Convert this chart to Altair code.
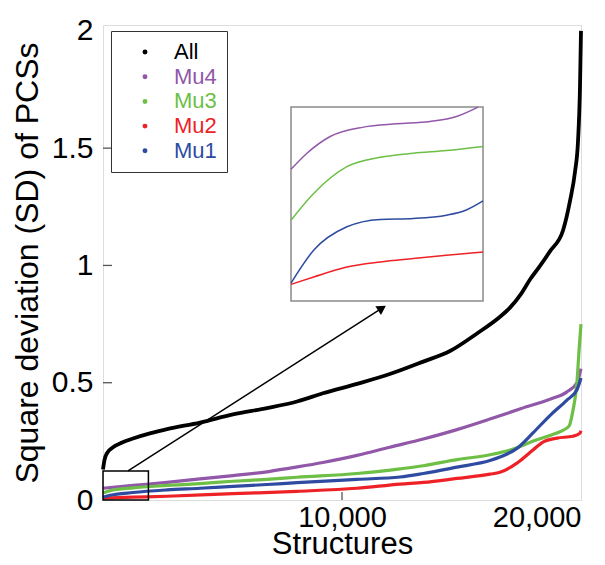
import altair as alt
import pandas as pd

# ---------------- data ----------------
series_names = ["All", "Mu4", "Mu3", "Mu2", "Mu1"]
series_colors = ["#000000", "#9157a8", "#6dbf45", "#ee2226", "#2e4ba1"]

all_x = [0, 60, 170, 420, 800, 1255, 2000, 2680, 4060, 5440, 6860, 8120, 9200, 10630,
         12000, 13400, 14520, 15650, 16600, 17030, 17500, 17866, 18300, 18700, 19250,
         19540, 19750, 19875, 19958, 20000]
all_y = [0.13, 0.17, 0.20, 0.225, 0.245, 0.262, 0.285, 0.302, 0.33, 0.365, 0.392, 0.42,
         0.455, 0.495, 0.537, 0.59, 0.635, 0.71, 0.78, 0.82, 0.88, 0.94, 1.0, 1.06, 1.15,
         1.275, 1.40, 1.53, 1.76, 2.0]

mu4_x = [0, 1255, 2680, 4060, 5440, 6860, 7820, 9200, 10630, 12000, 13400, 14810, 16190,
         17500, 18700, 19400, 19830, 20000]
mu4_y = [0.05, 0.062, 0.075, 0.09, 0.104, 0.12, 0.136, 0.16, 0.19, 0.225, 0.26, 0.30,
         0.345, 0.39, 0.43, 0.46, 0.50, 0.56]

mu3_x = [0, 300, 1255, 2680, 4060, 5440, 6860, 8120, 10630, 12430, 13400, 14810, 16190,
         17100, 17980, 18700, 19200, 19500, 19660, 19830, 19920, 20000]
mu3_y = [0.03, 0.04, 0.052, 0.062, 0.07, 0.08, 0.088, 0.097, 0.113, 0.133, 0.146, 0.172,
         0.193, 0.215, 0.25, 0.275, 0.295, 0.315, 0.38, 0.5, 0.64, 0.75]

mu2_x = [0, 1255, 2680, 5440, 8120, 10630, 12430, 13400, 14810, 16190, 16610, 17320,
         17990, 18410, 19000, 19660, 19960, 20000]
mu2_y = [0.008, 0.012, 0.016, 0.027, 0.037, 0.05, 0.068, 0.075, 0.092, 0.11, 0.118,
         0.157, 0.213, 0.247, 0.264, 0.272, 0.285, 0.295]

mu1_x = [0, 300, 1255, 2680, 4060, 5440, 6860, 8120, 10630, 12430, 13400, 14810, 16190,
         16610, 17320, 17980, 18700, 19400, 19830, 20000]
mu1_y = [0.012, 0.02, 0.032, 0.043, 0.05, 0.058, 0.066, 0.074, 0.088, 0.098, 0.113,
         0.14, 0.168, 0.183, 0.22, 0.285, 0.36, 0.425, 0.47, 0.52]

# zoomed view (inset) values, in units of the zoom window (structures 0-1900, SD 0-0.124)
zoom_mu4_x = [0, 158, 388, 716, 1045, 1374, 1638, 1851]
zoom_mu4_y = [0.0842, 0.0945, 0.1052, 0.1112, 0.1133, 0.1148, 0.1180, 0.124]
zoom_mu3_x = [0, 224, 553, 882, 1210, 1539, 1900]
zoom_mu3_y = [0.0517, 0.0688, 0.0859, 0.0919, 0.0945, 0.0962, 0.0988]
zoom_mu2_x = [0, 224, 553, 882, 1210, 1539, 1900]
zoom_mu2_y = [0.0107, 0.0154, 0.0218, 0.0250, 0.0272, 0.0293, 0.0314]
zoom_mu1_x = [0, 224, 553, 882, 1210, 1539, 1735, 1900]
zoom_mu1_y = [0.0115, 0.0325, 0.0475, 0.0522, 0.0528, 0.0549, 0.0582, 0.0640]

x_ticks = [10000, 20000]
y_ticks = [0, 0.5, 1, 1.5, 2]

# ---------------- tables ----------------
main_rows = []
for name, xs, ys in [("All", all_x, all_y), ("Mu4", mu4_x, mu4_y), ("Mu3", mu3_x, mu3_y),
                     ("Mu2", mu2_x, mu2_y), ("Mu1", mu1_x, mu1_y)]:
    for i, (a, b) in enumerate(zip(xs, ys)):
        main_rows.append({"series": name, "structures": a, "sd": b, "i": i})
main_df = pd.DataFrame(main_rows)

zoom_rows = []
for name, xs, ys in [("Mu4", zoom_mu4_x, zoom_mu4_y), ("Mu3", zoom_mu3_x, zoom_mu3_y),
                     ("Mu2", zoom_mu2_x, zoom_mu2_y), ("Mu1", zoom_mu1_x, zoom_mu1_y)]:
    for i, (a, b) in enumerate(zip(xs, ys)):
        zoom_rows.append({"series": name, "zx": a, "zy": b, "i": i})
zoom_df = pd.DataFrame(zoom_rows)

xtick_df = pd.DataFrame({"structures": x_ticks[:-1]})
ytick_df = pd.DataFrame({"sd": y_ticks[1:-1]})

# annotation geometry (in data units)
ZX1, ZY1 = 1900, 0.124            # zoom window
IX0, IX1, IY0, IY1 = 7866, 15900, 0.848, 1.675   # inset frame
zoom_box = pd.DataFrame([{"structures": 0, "structures2": ZX1, "sd": 0, "sd2": ZY1}])
inset_box = pd.DataFrame([{"structures": IX0, "structures2": IX1, "sd": IY0, "sd2": IY1}])
arrow_df = pd.DataFrame([{"structures": 1046, "structures2": 11674, "sd": 0.124, "sd2": 0.818}])
head_df = pd.DataFrame([{"structures": 11674, "sd": 0.818}])

FONT = "Liberation Sans"
XT = "Structures"
YT = "Square deviation (SD) of PCSs"
W, H = 478, 475

x_scale = alt.Scale(domain=[0, 20000], nice=False, zero=False)
y_scale = alt.Scale(domain=[0, 2.025], nice=False, zero=False)
color_scale = alt.Scale(domain=series_names, range=series_colors)

label_color_expr = (
    "datum.label === 'All' ? '#000000' : datum.label === 'Mu4' ? '#9157a8' : "
    "datum.label === 'Mu3' ? '#6dbf45' : datum.label === 'Mu2' ? '#ee2226' : '#2e4ba1'"
)

x_axis = alt.Axis(values=x_ticks, format=",d", labelFlush=True, labelOverlap=False,
                  ticks=False, labelPadding=3, titlePadding=-3,
                  domain=False, grid=False,
                  labelFont=FONT, labelFontSize=29, titleFont=FONT, titleFontSize=31,
                  titleFontWeight="normal", labelColor="black", titleColor="black")
y_axis = alt.Axis(values=y_ticks, format="~g", labelOverlap=False,
                  ticks=False, labelPadding=10, titlePadding=7,
                  domain=False, grid=False,
                  labelFont=FONT, labelFontSize=30, titleFont=FONT, titleFontSize=32,
                  titleFontWeight="normal", labelColor="black", titleColor="black")

legend = alt.Legend(title=None, orient="none", legendX=8, legendY=6, direction="vertical",
                    fillColor="white", strokeColor="#333333", padding=10, cornerRadius=0,
                    labelFont=FONT, labelFontSize=22,
                    labelColor=alt.ExprRef(expr=label_color_expr),
                    symbolType="circle", symbolSize=6, symbolStrokeWidth=2.5,
                    symbolOffset=13, labelOffset=18, rowPadding=2.7)

main_lines = alt.Chart(main_df).mark_line(interpolate="monotone").encode(
    x=alt.X("structures:Q", scale=x_scale, axis=x_axis, title=XT),
    y=alt.Y("sd:Q", scale=y_scale, axis=y_axis, title=YT),
    color=alt.Color("series:N", scale=color_scale, sort=series_names, legend=legend),
    strokeWidth=alt.condition("datum.series === 'All'", alt.value(3.8), alt.value(3.2)),
    order="i:Q",
)

# inward tick marks
y_tick_marks = alt.Chart(ytick_df).mark_rule(color="#555555", strokeWidth=1.3).encode(
    y=alt.Y("sd:Q", scale=y_scale, title=YT),
    x=alt.value(0), x2=alt.value(9),
)
x_tick_marks = alt.Chart(xtick_df).mark_rule(color="#555555", strokeWidth=1.3).encode(
    x=alt.X("structures:Q", scale=x_scale, title=XT),
    y=alt.value(H), y2=alt.value(H - 8),
)

inset_frame = alt.Chart(inset_box).mark_rect(fill="white", stroke="#8a8a8a", strokeWidth=1.5).encode(
    x=alt.X("structures:Q", scale=x_scale, title=XT), x2="structures2:Q",
    y=alt.Y("sd:Q", scale=y_scale, title=YT), y2="sd2:Q",
)

inset_lines = alt.Chart(zoom_df).transform_calculate(
    structures=f"{IX0} + datum.zx / {ZX1} * ({IX1} - {IX0})",
    sd=f"{IY0} + datum.zy / {ZY1} * ({IY1} - {IY0})",
).mark_line(strokeWidth=1.5, interpolate="monotone").encode(
    x=alt.X("structures:Q", scale=x_scale, title=XT),
    y=alt.Y("sd:Q", scale=y_scale, title=YT),
    color=alt.Color("series:N", scale=color_scale, sort=series_names, legend=legend),
    order="i:Q",
)

zoom_frame = alt.Chart(zoom_box).mark_rect(fillOpacity=0, stroke="black", strokeWidth=1.5).encode(
    x=alt.X("structures:Q", scale=x_scale, title=XT), x2="structures2:Q",
    y=alt.Y("sd:Q", scale=y_scale, title=YT), y2="sd2:Q",
)

arrow_line = alt.Chart(arrow_df).mark_rule(color="black", strokeWidth=1.5).encode(
    x=alt.X("structures:Q", scale=x_scale, title=XT), x2="structures2:Q",
    y=alt.Y("sd:Q", scale=y_scale, title=YT), y2="sd2:Q",
)

arrow_head = alt.Chart(head_df).mark_point(shape="triangle-up", filled=True, size=110,
                                           angle=57.5, color="black", opacity=1).encode(
    x=alt.X("structures:Q", scale=x_scale, title=XT),
    y=alt.Y("sd:Q", scale=y_scale, title=YT),
)

chart = alt.layer(
    y_tick_marks, x_tick_marks, main_lines, inset_frame, inset_lines, zoom_frame,
    arrow_line, arrow_head
).properties(
    width=W, height=H,
    autosize=alt.AutoSizeParams(type="none"),
    padding={"left": 95, "top": 17, "right": 16, "bottom": 57},
).configure_view(
    stroke="black", strokeWidth=2
).configure(background="white")

chart.save("out.html", embed_options={"renderer": "svg", "actions": False})
